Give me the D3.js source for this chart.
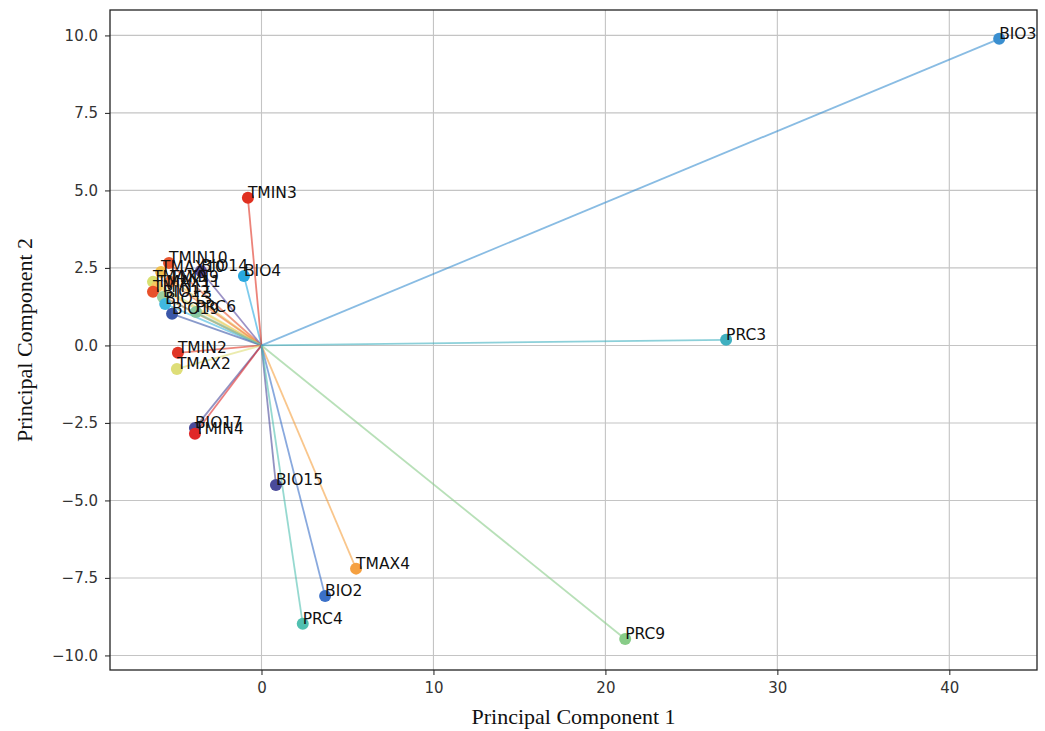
<!DOCTYPE html>
<html>
<head>
<meta charset="utf-8">
<script src="https://cdnjs.cloudflare.com/ajax/libs/d3/7.8.5/d3.min.js"></script>
<style>
  body { margin: 0; background: #fff; }
  .tick text { font-family: "DejaVu Sans", sans-serif; font-size: 15px; fill: #333; }
  .axis-label { font-family: "Liberation Serif", serif; font-size: 22px; fill: #111; }
  .pt-label { font-family: "DejaVu Sans", sans-serif; font-size: 15.5px; fill: #111; }
</style>
</head>
<body>
<div id="chart"></div>
<script>
// loadings / scores
var names = ["TMIN10", "TMAX10", "BIO14", "BIO4", "TMAX9", "TMIN9", "TMAX11", "TMIN11",
  "BIO12", "BIO13", "BIO19", "PRC6", "TMIN3", "TMIN2", "TMAX2", "BIO17", "TMIN4",
  "BIO15", "TMAX4", "BIO2", "PRC4", "PRC9", "PRC3", "BIO3"];
var pc1 = [-5.38, -5.84, -3.52, -1.02, -6.31, -5.32, -6.08, -6.31,
  -5.73, -5.6, -5.2, -3.81, -0.79, -4.86, -4.92, -3.87, -3.87,
  0.84, 5.5, 3.7, 2.4, 21.15, 27.02, 42.9];
var pc2 = [2.66, 2.37, 2.40, 2.24, 2.05, 2.05, 1.89, 1.73,
  1.56, 1.34, 1.02, 1.08, 4.76, -0.24, -0.76, -2.66, -2.85,
  -4.5, -7.2, -8.08, -8.98, -9.47, 0.18, 9.89];
var colors = ["#e8552f", "#f0c050", "#5a4aa0", "#29a8e0", "#d8e070", "#f07a40", "#f5c860", "#e8502a",
  "#9ad0a0", "#40b8e0", "#3a56a8", "#88c8a0", "#e03020", "#e03525", "#dede78", "#4a4a9a", "#e02828",
  "#4a4a9a", "#f5a040", "#3a70c8", "#50c0b0", "#88cc88", "#40b0c0", "#3a8fd0"];

var xTicks = [0, 10, 20, 30, 40];
var yTicks = [-10, -7.5, -5, -2.5, 0, 2.5, 5, 7.5, 10];

var data = names.map(function(n, i) {
  return { name: n, x: pc1[i], y: pc2[i], color: colors[i] };
});

// chart dimensions
var margin = { top: 10, right: 8, bottom: 61, left: 110 };
var fullWidth = 1045, fullHeight = 731;
var width = fullWidth - margin.left - margin.right;
var height = fullHeight - margin.top - margin.bottom;

var x = d3.scaleLinear().domain([-8.81, 45.1]).range([0, width]);
var y = d3.scaleLinear().domain([-10.47, 10.82]).range([height, 0]);

var svg = d3.select("#chart").append("svg")
  .attr("width", fullWidth)
  .attr("height", fullHeight);

var chart = svg.append("g")
  .attr("transform", "translate(" + margin.left + "," + margin.top + ")");

// grid
chart.append("g").selectAll("line").data(xTicks).enter().append("line")
  .attr("x1", function(d) { return x(d); }).attr("x2", function(d) { return x(d); })
  .attr("y1", 0).attr("y2", height)
  .style("stroke", "#c4c4c4").style("stroke-width", 1.1);
chart.append("g").selectAll("line").data(yTicks).enter().append("line")
  .attr("y1", function(d) { return y(d); }).attr("y2", function(d) { return y(d); })
  .attr("x1", 0).attr("x2", width)
  .style("stroke", "#c4c4c4").style("stroke-width", 1.1);

// axes
var xAxis = chart.append("g")
  .attr("transform", "translate(0," + height + ")")
  .call(d3.axisBottom(x).tickValues(xTicks).tickSize(5).tickPadding(7).tickFormat(d3.format("d")));
var yAxis = chart.append("g")
  .call(d3.axisLeft(y).tickValues(yTicks).tickSize(5).tickPadding(7).tickFormat(d3.format(".1f")));
[xAxis, yAxis].forEach(function(a) {
  a.select(".domain").remove();
  a.selectAll(".tick line").style("stroke", "#333").style("stroke-width", 1.1);
});

// vectors from the origin
chart.append("g").selectAll("line").data(data).enter().append("line")
  .attr("x1", x(0)).attr("y1", y(0))
  .attr("x2", function(d) { return x(d.x); })
  .attr("y2", function(d) { return y(d.y); })
  .style("stroke", function(d) { return d.color; })
  .style("stroke-opacity", 0.6)
  .style("stroke-width", 1.8);

// points
chart.append("g").selectAll("circle").data(data).enter().append("circle")
  .attr("cx", function(d) { return x(d.x); })
  .attr("cy", function(d) { return y(d.y); })
  .attr("r", 6)
  .style("fill", function(d) { return d.color; });

// labels
chart.append("g").selectAll("text").data(data).enter().append("text")
  .attr("class", "pt-label")
  .attr("x", function(d) { return x(d.x); })
  .attr("y", function(d) { return y(d.y); })
  .text(function(d) { return d.name; });

// frame
chart.append("rect")
  .attr("width", width).attr("height", height)
  .style("fill", "none").style("stroke", "#222").style("stroke-width", 1.3);

// axis labels
svg.append("text")
  .attr("class", "axis-label")
  .attr("x", margin.left + width / 2)
  .attr("y", 724)
  .style("text-anchor", "middle")
  .text("Principal Component 1");
svg.append("text")
  .attr("class", "axis-label")
  .attr("transform", "translate(32," + (margin.top + height / 2) + ") rotate(-90)")
  .style("text-anchor", "middle")
  .text("Principal Component 2");
</script>
</body>
</html>
